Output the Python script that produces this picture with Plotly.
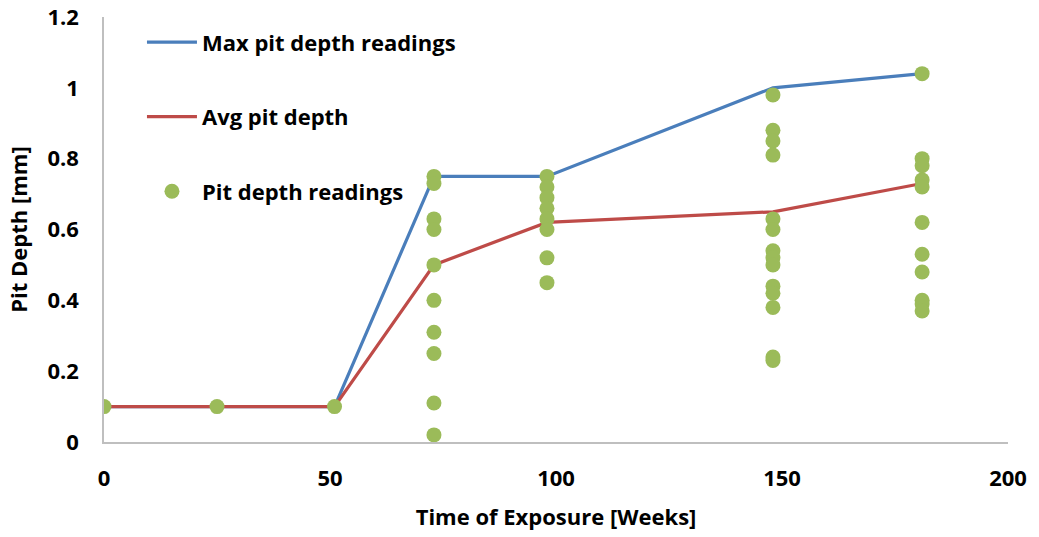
import plotly.graph_objects as go

# Line series
line_weeks = [0, 25, 51, 73, 98, 148, 181]
max_depth = [0.1, 0.1, 0.1, 0.75, 0.75, 1.0, 1.04]
avg_depth = [0.1, 0.1, 0.1, 0.5, 0.62, 0.65, 0.73]

# Individual readings
reading_weeks = (
    [0, 25, 51]
    + [73] * 10
    + [98] * 8
    + [148] * 14
    + [181] * 11
)
reading_depths = (
    [0.1, 0.1, 0.1]
    + [0.75, 0.73, 0.63, 0.60, 0.50, 0.40, 0.31, 0.25, 0.11, 0.02]
    + [0.75, 0.72, 0.69, 0.66, 0.63, 0.60, 0.52, 0.45]
    + [0.98, 0.88, 0.85, 0.81, 0.63, 0.60, 0.54, 0.52, 0.50, 0.44, 0.42, 0.38, 0.24, 0.23]
    + [1.04, 0.80, 0.78, 0.74, 0.72, 0.62, 0.53, 0.48, 0.40, 0.39, 0.37]
)

x_ticks = [0, 50, 100, 150, 200]
y_ticks = [0, 0.2, 0.4, 0.6, 0.8, 1.0, 1.2]
y_tick_labels = ["0", "0.2", "0.4", "0.6", "0.8", "1", "1.2"]

FONT = "Open Sans"
FS = 22

fig = go.Figure()
fig.add_trace(go.Scatter(x=line_weeks, y=max_depth, mode="lines", name="Max pit depth readings",
                         line=dict(color="#4A7EBB", width=3.2), legendgroup="a"))
fig.add_trace(go.Scatter(x=line_weeks, y=avg_depth, mode="lines", name="Avg pit depth",
                         line=dict(color="#BE4B48", width=3.2), legendgroup="b"))
fig.add_trace(go.Scatter(x=reading_weeks, y=reading_depths, mode="markers", name="Pit depth readings",
                         marker=dict(color="#9BBB59", size=15), legendgroup="c"))

fig.update_layout(
    width=1039, height=537,
    margin=dict(l=104, r=31, t=17, b=95),
    paper_bgcolor="white", plot_bgcolor="white",
    font=dict(family=FONT, size=FS, color="black", weight="bold"),
    showlegend=True,
    legend=dict(x=0.042, y=0.99, xanchor="left", yanchor="top", bgcolor="rgba(0,0,0,0)",
                font=dict(size=FS, family=FONT, weight="bold"), tracegroupgap=43,
                itemwidth=50),
    xaxis=dict(range=[0, 200], tickvals=x_ticks, showgrid=False, zeroline=False,
               showline=True, linecolor="#BFBFBF", linewidth=1.5, ticks="",
               ticklabelstandoff=16, automargin=False,
               title=dict(text="Time of Exposure [Weeks]", font=dict(size=FS, family=FONT, weight="bold"), standoff=18)),
    yaxis=dict(range=[0, 1.2], tickvals=y_ticks, ticktext=y_tick_labels, showgrid=False, zeroline=False,
               showline=True, linecolor="#BFBFBF", linewidth=1.5, ticks="",
               ticklabelstandoff=19, automargin=False,
               title=dict(text="Pit Depth [mm]", font=dict(size=FS, family=FONT, weight="bold"), standoff=14)),
)

fig.write_html("out.html")
